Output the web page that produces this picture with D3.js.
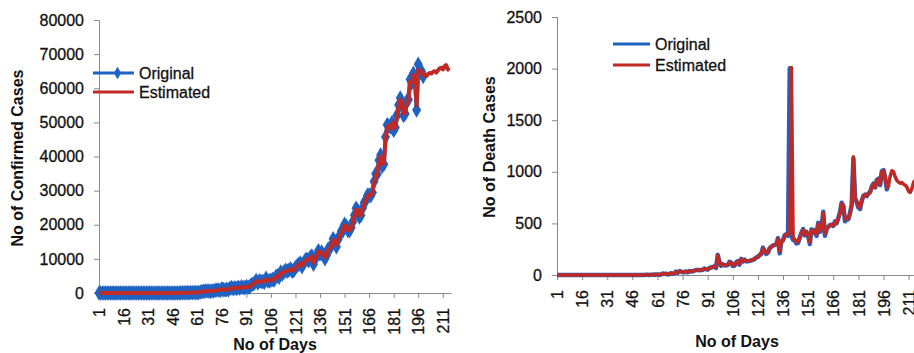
<!DOCTYPE html>
<html>
<head>
<meta charset="utf-8">
<script src="https://cdn.jsdelivr.net/npm/d3@7"></script>
<style>
  html, body { margin: 0; padding: 0; background: #fff; overflow: hidden; }
  svg { display: block; font-family: "Liberation Sans", Arial, sans-serif; }
</style>
</head>
<body>
<div id="chart"></div>
<script>
// ---- data ----
const confirmedTicks = [0, 10000, 20000, 30000, 40000, 50000, 60000, 70000, 80000];
const deathTicks = [0, 500, 1000, 1500, 2000, 2500];
const dayTicks = [1, 16, 31, 46, 61, 76, 91, 106, 121, 136, 151, 166, 181, 196, 211];
const seriesNames = ["Original", "Estimated"];

// confirmed cases per day, original (days 1..199)
const confirmedOriginal = [
  0, 1, 0, 1, 1, 0, 0, 0, 0, 0, 0, 0, 0, 0, 0, 0, 0, 0, 0, 0,
  0, 0, 0, 0, 0, 0, 0, 0, 0, 0, 0, 0, 0,
  2, 1, 22, 2, 1, 3, 5, 9, 15, 8, 10, 10, 12, 23, 9, 24, 14, 38, 50, 86,
  66, 103, 37, 121, 70, 160, 100, 82, 146,
  309, 424, 486, 560, 579, 609, 484, 573, 565, 813, 871, 854, 758, 1243, 1031, 886,
  1061, 922, 1371, 1580, 1239, 1537, 1292, 1667, 1408, 1835, 1607, 1568, 1902, 1705, 1801,
  2396, 2564, 2952, 3656, 2971, 3602, 3344, 3339, 3175, 4311, 3592, 3562, 3726, 3991, 3808,
  4794, 5050, 4630, 6147, 5553, 6198, 6629, 6415, 6665, 7113, 6414, 6568, 7468, 7964, 8380, 8789,
  7723, 8812, 9633, 9889, 9471, 10438, 10864, 8442, 9981, 10956, 12375, 11458, 12023, 11157, 10032,
  11086, 12881, 13108, 13832, 15915, 15158, 13560, 15656, 16868, 18205, 18255, 20131, 19610, 18339, 18256,
  19148, 20903, 22771, 24850, 24248, 22252, 22752, 24879, 26506, 27114, 28637, 28701, 28498, 29429, 32695,
  34956, 34884, 38902, 40425, 37148, 37724, 45720, 49310, 48916, 48661, 49931, 47703, 48513, 52123, 55079,
  57118, 54735,
  52050, 52509, 56282, 56626, 62538, 61537, 64399, 62064, 53601, 66999, 64553, 65002, 63490
];

// confirmed cases per day, estimated (days 1..215)
const confirmedEstimated = [
  0, 0, 0, 0, 0, 0, 0, 0, 0, 0, 0, 0, 0, 0, 0, 0, 0, 0, 0, 0,
  0, 0, 0, 0, 0, 0, 0, 0, 0, 0, 0, 0, 0,
  5, 8, 12, 10, 8, 9, 10, 12, 15, 14, 15, 16, 18, 20, 22, 25, 30, 40, 55, 70,
  80, 95, 100, 110, 120, 140, 150, 160, 190,
  280, 380, 450, 520, 560, 590, 560, 580, 620, 760, 840, 860, 850, 1100, 1080, 980,
  1050, 1020, 1300, 1500, 1350, 1500, 1400, 1600, 1500, 1750, 1680, 1650, 1850, 1780, 1850,
  2300, 2550, 2900, 3450, 3150, 3500, 3400, 3380, 3300, 4100, 3750, 3650, 3750, 3950, 3900,
  4650, 4950, 4750, 5900, 5700, 6100, 6500, 6450, 6650, 7000, 6600, 6650, 7350, 7850, 8250, 8650,
  7950, 8750, 9500, 9800, 9600, 10300, 10700, 8900, 9900, 10800, 12100, 11600, 11950, 11300, 10400,
  11000, 12600, 13050, 13700, 15500, 15300, 14000, 15500, 16600, 17900, 18200, 19800, 19700, 18700, 18400,
  19000, 20600, 22500, 24400, 24300, 22700, 22900, 24600, 26200, 27000, 28400, 28700, 28600, 29400, 32200,
  34500, 34900, 38300, 40000, 37800, 38000, 44600, 48600, 48900, 48700, 49700, 48200, 48600, 51600, 54500,
  56700, 55000,
  52600, 52700, 55800, 56500, 61800, 61800, 63900, 62400, 55000, 65500, 64800, 64900, 63800,
  64100, 63600, 64200, 64500, 64300, 64800, 65000, 64600, 65200, 65800, 66000, 65500, 66400, 66800, 65600, 65200
];

// death cases per day, original (days 1..199)
const deathOriginal = [
  0, 0, 0, 0, 0, 0, 0, 0, 0, 0, 0, 0, 0, 0, 0, 0, 0, 0, 0, 0, 0, 0,
  0, 0, 0, 0, 0, 0, 0, 0, 0, 0, 0, 0, 0, 0, 0, 0, 0, 0, 0, 0, 0, 0,
  1, 0, 1, 0, 0, 1, 0, 1, 1, 2, 3, 1, 3, 2, 4, 3, 6, 3,
  3, 15, 11, 13, 6, 8, 17, 13, 13, 33, 22, 37, 34, 27, 26, 35, 25, 39, 34, 36,
  41, 49, 48, 46, 49, 50, 62, 57, 52, 67, 73,
  77, 83, 68, 195, 126, 89, 103, 95, 93, 97, 128, 120, 87, 89, 122, 134, 100, 157, 131, 148,
  132, 134, 137, 142, 147, 154, 170, 175, 193, 205, 265, 230, 204, 217, 260, 273, 286, 294, 296, 357,
  210, 325, 336, 386, 396, 380, 2003, 380, 341, 334, 306, 312, 365, 410, 445, 384, 418, 380, 300, 442,
  410, 434, 379, 507, 418, 450, 613, 380, 442, 467, 482, 487, 475, 519, 500, 551, 606, 700, 671, 520,
  543, 540, 600, 680, 1129, 740, 705, 654, 640, 720, 768, 779, 764, 790, 803, 857, 886, 848, 920, 933,
  871, 1007, 1017, 940, 830, 880
];

// death cases per day, estimated (days 1..215)
const deathEstimated = [
  0, 0, 0, 0, 0, 0, 0, 0, 0, 0, 0, 0, 0, 0, 0, 0, 0, 0, 0, 0, 0, 0,
  0, 0, 0, 0, 0, 0, 0, 0, 0, 0, 0, 0, 0, 0, 0, 0, 0, 0, 0, 0, 0, 0,
  1, 1, 1, 1, 1, 1, 1, 1, 1, 2, 2, 2, 3, 3, 3, 4, 5, 5,
  6, 12, 12, 13, 9, 10, 15, 14, 15, 30, 25, 35, 34, 30, 29, 34, 30, 38, 36, 37,
  42, 48, 48, 47, 50, 52, 60, 58, 55, 66, 72,
  78, 82, 75, 188, 130, 95, 102, 97, 96, 100, 125, 120, 95, 95, 120, 132, 108, 152, 135, 146,
  136, 137, 140, 144, 149, 156, 168, 176, 192, 206, 258, 235, 212, 222, 258, 272, 285, 293, 300, 350,
  230, 320, 338, 380, 395, 390, 420, 2010, 360, 345, 320, 322, 360, 405, 438, 395, 415, 385, 320, 435,
  415, 430, 390, 495, 425, 452, 600, 400, 445, 468, 482, 488, 480, 515, 505, 548, 600, 690, 668, 540,
  548, 545, 598, 676, 1146, 750, 712, 668, 652, 718, 765, 778, 768, 792, 805, 852, 880, 852, 915, 930,
  880, 1000, 1012, 945, 845, 875,
  960, 1010, 1000, 950, 915, 900, 890, 895, 880, 870, 850, 810, 800, 840, 900, 920
];

// ---- drawing ----
const blue = "#1f63c2";
const red = "#c02a26";
const axisGray = "#8a8a8a";

const svg = d3.select("#chart").append("svg")
  .attr("width", 914)
  .attr("height", 353);

function drawPanel(opt) {
  const g = svg.append("g");
  const x = d3.scaleLinear().domain([1, 216]).range([opt.left, opt.right]);
  const y = d3.scaleLinear().domain([0, opt.ticks[opt.ticks.length - 1]]).range([opt.bottom, opt.top]);

  // y axis
  const yAxis = g.append("g")
    .attr("transform", `translate(${opt.left},0)`)
    .call(d3.axisLeft(y).tickValues(opt.ticks).tickSize(5).tickPadding(10).tickFormat(d3.format("d")));
  yAxis.select(".domain").attr("stroke", axisGray);
  yAxis.selectAll(".tick line").attr("stroke", axisGray);
  yAxis.selectAll(".tick text")
    .attr("font-size", 16)
    .attr("fill", "#111")
    .attr("stroke", "#111")
    .attr("stroke-width", 0.3)
    .attr("font-family", "Liberation Sans, Arial, sans-serif");

  // x axis
  const xAxis = g.append("g")
    .attr("transform", `translate(0,${opt.bottom})`)
    .call(d3.axisBottom(x).tickValues(dayTicks).tickSize(5).tickSizeOuter(0).tickFormat(d3.format("d")));
  xAxis.select(".domain").attr("stroke", axisGray);
  xAxis.selectAll(".tick line").attr("stroke", axisGray);
  xAxis.selectAll(".tick text")
    .attr("font-size", 16)
    .attr("fill", "#111")
    .attr("stroke", "#111")
    .attr("stroke-width", 0.3)
    .attr("font-family", "Liberation Sans, Arial, sans-serif")
    .attr("text-anchor", "end")
    .attr("transform", "translate(0,15) rotate(-90)")
    .attr("x", 0)
    .attr("y", 0)
    .attr("dy", "0.35em");

  // axis titles
  g.append("text")
    .attr("transform", `translate(${opt.yTitleX},${opt.yTitleY}) rotate(-90)`)
    .attr("text-anchor", "middle")
    .attr("font-size", 16)
    .attr("font-weight", "bold")
    .attr("fill", "#111")
    .text(opt.yTitle);

  g.append("text")
    .attr("x", opt.xTitleX)
    .attr("y", opt.xTitleY)
    .attr("text-anchor", "middle")
    .attr("font-size", 16)
    .attr("font-weight", "bold")
    .attr("fill", "#111")
    .text("No of Days");

  const line = d3.line()
    .x((d, i) => x(i + 1))
    .y(d => y(d));

  // original
  g.append("path")
    .datum(opt.original)
    .attr("fill", "none")
    .attr("stroke", blue)
    .attr("stroke-width", opt.markers ? 4 : 4.5)
    .attr("stroke-linejoin", "round")
    .attr("d", line);

  if (opt.markers) {
    g.append("g").selectAll("path")
      .data(opt.original)
      .join("path")
      .attr("transform", (d, i) => `translate(${x(i + 1)},${y(d)})`)
      .attr("d", d3.symbol(d3.symbolDiamond, 70))
      .attr("fill", blue);
  }

  // estimated
  g.append("path")
    .datum(opt.estimated)
    .attr("fill", "none")
    .attr("stroke", red)
    .attr("stroke-width", opt.markers ? 4 : 3.5)
    .attr("stroke-linejoin", "round")
    .attr("d", line);

  // legend
  const leg = g.append("g");
  seriesNames.forEach((name, i) => {
    const ly = opt.legY[i];
    leg.append("line")
      .attr("x1", opt.legX1).attr("x2", opt.legX2)
      .attr("y1", ly).attr("y2", ly)
      .attr("stroke", i === 0 ? blue : red)
      .attr("stroke-width", 3);
    if (i === 0 && opt.markers) {
      leg.append("path")
        .attr("transform", `translate(${(opt.legX1 + opt.legX2) / 2 + 4},${ly})`)
        .attr("d", d3.symbol(d3.symbolDiamond, 45))
        .attr("fill", blue);
    }
    leg.append("text")
      .attr("x", opt.legX2 + 5)
      .attr("y", ly)
      .attr("dy", "0.35em")
      .attr("font-size", 16)
      .attr("fill", "#111")
      .attr("stroke", "#111")
      .attr("stroke-width", 0.3)
      .text(name);
  });
}

drawPanel({
  left: 99, right: 451, top: 20, bottom: 293,
  ticks: confirmedTicks,
  original: confirmedOriginal,
  estimated: confirmedEstimated,
  markers: true,
  yTitle: "No of Confirmed Cases", yTitleX: 23, yTitleY: 158,
  xTitleX: 275, xTitleY: 350,
  legX1: 93, legX2: 134, legY: [73, 92]
});

drawPanel({
  left: 557, right: 917, top: 17, bottom: 275,
  ticks: deathTicks,
  original: deathOriginal,
  estimated: deathEstimated,
  markers: false,
  yTitle: "No of Death Cases", yTitleX: 495, yTitleY: 147,
  xTitleX: 737, xTitleY: 347,
  legX1: 613, legX2: 650, legY: [44, 65]
});
</script>
</body>
</html>
